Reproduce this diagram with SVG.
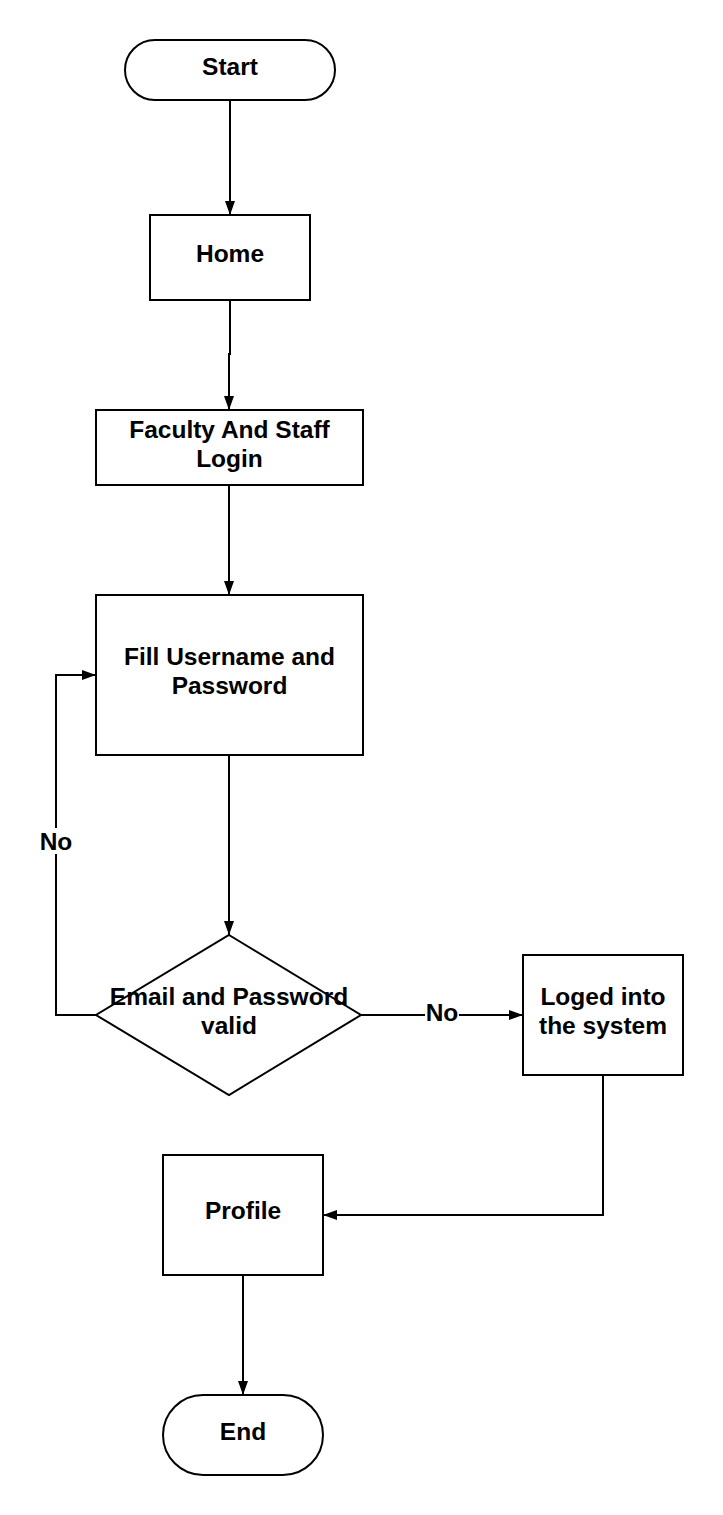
<svg xmlns="http://www.w3.org/2000/svg" width="723" height="1515" viewBox="0 0 723 1515">
<style>
.s{fill:#fff;stroke:#000;stroke-width:2}
.t{font-family:"Liberation Sans",Arial,sans-serif;font-weight:bold;font-size:24.5px;fill:#000;text-anchor:middle}
.c{fill:none;stroke:#000;stroke-width:2}
.lb{fill:#fff}
</style>
<defs>
<marker id="a" viewBox="0 0 14 10" refX="14" refY="5" markerWidth="14" markerHeight="10" markerUnits="userSpaceOnUse" orient="auto">
<path d="M0,0 L14,5 L0,10 Z" fill="#000"/>
</marker>
</defs>
<rect width="723" height="1515" fill="#fff"/>
<g id="connectors">
<path class="c" d="M230,100 L230,215" marker-end="url(#a)"/>
<path class="c" d="M230,300 L230,354 L229,354 L229,410" marker-end="url(#a)"/>
<path class="c" d="M229,485 L229,595" marker-end="url(#a)"/>
<path class="c" d="M229,755 L229,935" marker-end="url(#a)"/>
<path class="c" d="M96,1015 L56,1015 L56,675 L96,675" marker-end="url(#a)"/>
<path class="c" d="M361,1015 L523,1015" marker-end="url(#a)"/>
<path class="c" d="M603,1075 L603,1215 L323,1215" marker-end="url(#a)"/>
<path class="c" d="M243,1275 L243,1395" marker-end="url(#a)"/>
<rect class="lb" x="37" y="828" width="38" height="26"/>
<text class="t" x="56" y="850">No</text>
<rect class="lb" x="425" y="1002" width="34" height="24"/>
<text class="t" x="442" y="1021">No</text>
</g>
<g id="start">
<rect class="s" x="125" y="40" width="210" height="60" rx="30"/>
<text class="t" x="230" y="75">Start</text>
</g>
<g id="home">
<rect class="s" x="150" y="215" width="160" height="85"/>
<text class="t" x="230" y="262">Home</text>
</g>
<g id="login">
<rect class="s" x="96" y="410" width="267" height="75"/>
<text class="t" x="229.5" y="438">Faculty And Staff</text>
<text class="t" x="229.5" y="467">Login</text>
</g>
<g id="fill">
<rect class="s" x="96" y="595" width="267" height="160"/>
<text class="t" x="229.5" y="665">Fill Username and</text>
<text class="t" x="229.5" y="694">Password</text>
</g>
<g id="valid">
<polygon class="s" points="229,935 361,1015 229,1095 96,1015"/>
<text class="t" x="229" y="1005">Email and Password</text>
<text class="t" x="229" y="1034">valid</text>
</g>
<g id="loged">
<rect class="s" x="523" y="955" width="160" height="120"/>
<text class="t" x="603" y="1005">Loged into</text>
<text class="t" x="603" y="1034">the system</text>
</g>
<g id="profile">
<rect class="s" x="163" y="1155" width="160" height="120"/>
<text class="t" x="243" y="1219">Profile</text>
</g>
<g id="end">
<rect class="s" x="163" y="1395" width="160" height="80" rx="40"/>
<text class="t" x="243" y="1440">End</text>
</g>
</svg>
